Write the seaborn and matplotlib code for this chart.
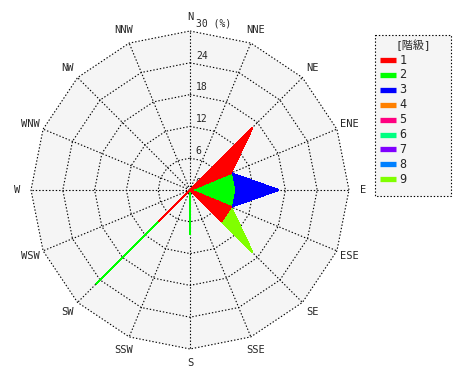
import numpy as np
import pandas as pd
import matplotlib
matplotlib.use("Agg")
import matplotlib.pyplot as plt
import seaborn as sns
from matplotlib.patches import Rectangle
from matplotlib.transforms import Affine2D

# ---------------- data ----------------
directions = ["N", "NNE", "NE", "ENE", "E", "ESE", "SE", "SSE",
              "S", "SSW", "SW", "WSW", "W", "WNW", "NW", "NNW"]
classes = ["1", "2", "3", "4", "5", "6", "7", "8", "9"]
class_colors = ["#FF0000", "#00FF00", "#0000FF", "#FF8000", "#FF0080",
                "#00FF80", "#8000FF", "#0080FF", "#80FF00"]
#         N  NNE    NE    ENE     E    ESE    SE   SSE    S   SSW   SW   WSW W WNW NW NNW
class1 = [0, 0, 16.67, 8.33, 0, 8.33, 8.33, 0, 0, 0, 8.33, 0, 0, 0, 0, 0]
class2 = [0, 0, 0, 0, 8.33, 0, 0, 0, 8.33, 0, 16.67, 0, 0, 0, 0, 0]
class3 = [0, 0, 0, 0, 8.33, 0, 0, 0, 0, 0, 0, 0, 0, 0, 0, 0]
class4 = [0] * 16
class5 = [0] * 16
class6 = [0] * 16
class7 = [0] * 16
class8 = [0] * 16
class9 = [0, 0, 0, 0, 0, 0, 8.33, 0, 0, 0, 0, 0, 0, 0, 0, 0]
ring_values = [6, 12, 18, 24, 30]
legend_title = "[階級]"
unit_label = "(%)"

# ---------------- style ----------------
sns.set_style("white")
plt.rcParams["font.family"] = ["DejaVu Sans Mono", "Noto Sans CJK JP", "DejaVu Sans"]
plt.rcParams["lines.scale_dashes"] = False

W, H, DPI = 470, 380, 100
fig = plt.figure(figsize=(W / DPI, H / DPI), dpi=DPI)
ax = fig.add_axes([0, 0, 1, 1])
s = 5.3            # pixels per percent
cx, cy = 190, 190  # centre in pixels (from top-left)
ax.set_xlim(-cx / s, (W - cx) / s)
ax.set_ylim(-(H - cy) / s, cy / s)
ax.set_aspect("auto")
ax.axis("off")

df = pd.DataFrame({"dir": directions, **{c: v for c, v in zip(classes, [
    class1, class2, class3, class4, class5, class6, class7, class8, class9])}})
theta = np.deg2rad(np.arange(16) * 22.5)
sx, sy = np.sin(theta), np.cos(theta)

rmax = ring_values[-1]
# background polygon
ax.fill(np.append(sx, sx[0]) * rmax, np.append(sy, sy[0]) * rmax,
        color="#F5F5F5", zorder=0, lw=0)

dot = (0, (1.0, 1.4))
for r in ring_values:
    ax.plot(np.append(sx, sx[0]) * r, np.append(sy, sy[0]) * r,
            color="black", lw=0.8, ls=dot, zorder=1)
for i in range(16):
    ax.plot([0, sx[i] * rmax], [0, sy[i] * rmax], color="black", lw=0.8, ls=dot, zorder=1)

# ring labels
for r in ring_values:
    txt = f"{r} {unit_label}" if r == rmax else str(r)
    ax.text(1.1, r + 0.4, txt, fontsize=7, ha="left", va="bottom", zorder=2)
ax.text(1.1, 0.4, "0", fontsize=7, ha="left", va="bottom", zorder=2)

# direction labels
for i, d in enumerate(directions):
    ax.text(sx[i] * 32.6, sy[i] * 32.6, d, fontsize=7.5, ha="center", va="center")

# stacked radar polygons (largest cumulative first)
cum = df[classes].cumsum(axis=1)
for k in range(len(classes) - 1, -1, -1):
    r = cum[classes[k]].to_numpy()
    if r.max() <= 0:
        continue
    xs = np.append(sx * r, sx[0] * r[0])
    ys = np.append(sy * r, sy[0] * r[0])
    ax.fill(xs, ys, facecolor=class_colors[k], edgecolor=class_colors[k],
            lw=0.8, zorder=3 + (len(classes) - k), antialiased=False)

# legend (drawn in pixel coordinates, origin top-left)
px = Affine2D().scale(1, -1).translate(0, H)
ptr = px + fig.dpi_scale_trans.inverted() + fig.dpi_scale_trans  # pixel -> display
ptr = Affine2D().scale(1, -1).translate(0, H) + fig.transFigure.inverted() + fig.transFigure
ptr = Affine2D().scale(1.0 / W, -1.0 / H).translate(0, 1) + fig.transFigure
fig.patches.append(Rectangle((375, 35), 76, 161, transform=ptr, facecolor="#F5F5F5",
                             edgecolor="black", lw=0.8, ls=dot, zorder=1))
fig.text(413, 45, legend_title, transform=ptr, fontsize=8, ha="center", va="center")
for i, (c, lab) in enumerate(zip(class_colors, classes)):
    y = 60 + 14.9 * i
    fig.lines.append(plt.Line2D([380, 396], [y, y], transform=ptr, color=c, lw=3.8,
                                solid_capstyle="butt"))
    fig.text(399.5, y, lab, transform=ptr, fontsize=8.5, ha="left", va="center")

fig.savefig("out.png", dpi=DPI)
